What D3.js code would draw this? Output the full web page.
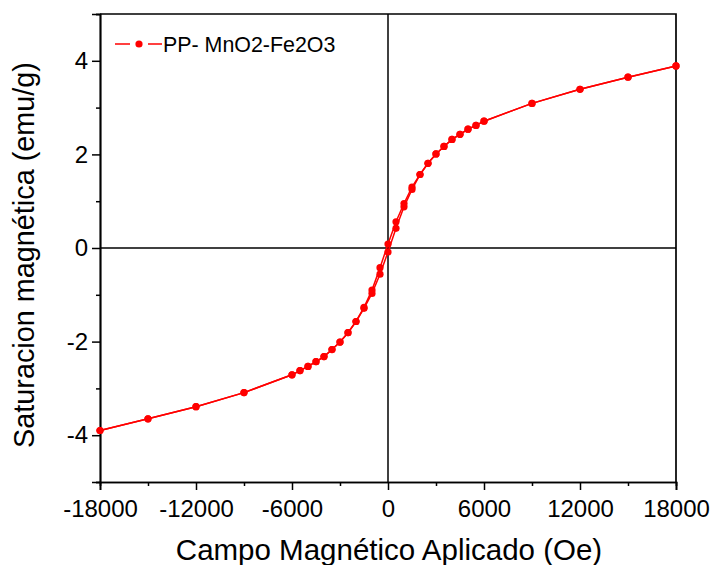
<!DOCTYPE html>
<html><head><meta charset="utf-8">
<script src="https://cdn.jsdelivr.net/npm/d3@7"></script>
<style>body{margin:0;background:#fff}svg{display:block}text{font-family:"Liberation Sans",Arial,sans-serif;fill:#000}</style>
</head><body><svg id="c" width="710" height="565"></svg>
<script>
// Descending branch (field from +18000 Oe down to -18000 Oe)
const fieldDown = [18000,15000,12000,9000,6000,5500,5000,4500,4000,3500,3000,2500,2000,1500,1000,500,0,-500,-1000,-1500,-2000,-2500,-3000,-3500,-4000,-4500,-5000,-5500,-6000,-9000,-12000,-15000,-18000];
const magDown = [3.89,3.65,3.39,3.09,2.71,2.62,2.54,2.43,2.32,2.17,2.01,1.81,1.57,1.30,0.95,0.56,0.085,-0.42,-0.90,-1.27,-1.57,-1.81,-2.01,-2.17,-2.32,-2.43,-2.53,-2.62,-2.71,-3.09,-3.39,-3.65,-3.90];
// Ascending branch (field from -18000 Oe up to +18000 Oe)
const fieldUp = [-18000,-15000,-12000,-9000,-6000,-5500,-5000,-4500,-4000,-3500,-3000,-2500,-2000,-1500,-1000,-500,0,500,1000,1500,2000,2500,3000,3500,4000,4500,5000,5500,6000,9000,12000,15000,18000];
const magUp = [-3.90,-3.65,-3.39,-3.09,-2.71,-2.62,-2.53,-2.43,-2.32,-2.17,-2.01,-1.81,-1.57,-1.29,-0.97,-0.56,-0.085,0.42,0.88,1.25,1.57,1.81,2.01,2.17,2.32,2.43,2.54,2.62,2.71,3.09,3.39,3.65,3.89];
const xTicks = [-18000,-12000,-6000,0,6000,12000,18000];
const xMinor = [-15000,-9000,-3000,3000,9000,15000];
const yTicks = [-4,-2,0,2,4];
const yMinor = [-5,-3,-1,1,3,5];
const seriesName = "PP- MnO2-Fe2O3";
const xTitle = "Campo Magnético Aplicado (Oe)";
const yTitle = "Saturacion magnética (emu/g)";

const svg = d3.select("#c");
const L=100,R=676,T=14,B=482;
const x = d3.scaleLinear().domain([-18000,18000]).range([L,R]);
const y = d3.scaleLinear().domain([-5,5]).range([B,T]);
const red = "#ff0000";

// zero lines
svg.append("line").attr("x1",L).attr("x2",R).attr("y1",y(0)).attr("y2",y(0)).attr("stroke","#000").attr("stroke-width",1.5);
svg.append("line").attr("x1",x(0)).attr("x2",x(0)).attr("y1",T).attr("y2",B).attr("stroke","#000").attr("stroke-width",1.5);

// axes
const xAxis = svg.append("g").attr("transform",`translate(0,${B})`)
  .call(d3.axisBottom(x).tickValues(xTicks).tickFormat(d=>String(d)).tickSize(8).tickPadding(5));
const xAxisM = svg.append("g").attr("transform",`translate(0,${B})`)
  .call(d3.axisBottom(x).tickValues(xMinor).tickFormat("").tickSize(4));
const yAxis = svg.append("g").attr("transform",`translate(${L},0)`)
  .call(d3.axisLeft(y).tickValues(yTicks).tickFormat(d=>String(d)).tickSize(8).tickPadding(5));
const yAxisM = svg.append("g").attr("transform",`translate(${L},0)`)
  .call(d3.axisLeft(y).tickValues(yMinor).tickFormat("").tickSize(4));
[xAxis,xAxisM,yAxis,yAxisM].forEach(g=>{
  g.select(".domain").attr("stroke","#000").attr("stroke-width",1.7);
  g.selectAll(".tick line").attr("stroke","#000").attr("stroke-width",1.5);
  g.selectAll(".tick text").attr("font-size",24).attr("font-family","Liberation Sans, Arial, sans-serif").attr("fill","#000");
});
xAxis.selectAll(".tick text").attr("dy","0.93em");
yAxis.selectAll(".tick text").attr("x",-12);
// frame top/right
svg.append("path").attr("d",`M${L},${T}H${R}V${B}`).attr("fill","none").attr("stroke","#000").attr("stroke-width",1.7);

// data
const down = fieldDown.map((h,i)=>[h,magDown[i]]);
const up = fieldUp.map((h,i)=>[h,magUp[i]]);
const line = d3.line().x(d=>x(d[0])).y(d=>y(d[1]));
[down,up].forEach(s=>{
  svg.append("path").datum(s).attr("d",line).attr("fill","none").attr("stroke",red).attr("stroke-width",1.5);
  svg.append("g").selectAll("circle").data(s).join("circle")
    .attr("cx",d=>x(d[0])).attr("cy",d=>y(d[1])).attr("r",3.6).attr("fill",red);
});

// legend
const ly=44;
svg.append("line").attr("x1",115).attr("x2",130).attr("y1",ly).attr("y2",ly).attr("stroke",red).attr("stroke-width",1.5);
svg.append("line").attr("x1",148).attr("x2",162).attr("y1",ly).attr("y2",ly).attr("stroke",red).attr("stroke-width",1.5);
svg.append("circle").attr("cx",139).attr("cy",ly).attr("r",3.6).attr("fill",red);
svg.append("text").attr("x",163).attr("y",52).attr("font-size",21.4).text(seriesName);

// titles
svg.append("text").attr("x",389).attr("y",560).attr("text-anchor","middle").attr("font-size",29.5).text(xTitle);
svg.append("text").attr("transform","translate(34,255) rotate(-90)").attr("text-anchor","middle").attr("font-size",28.8).text(yTitle);
</script></body></html>
